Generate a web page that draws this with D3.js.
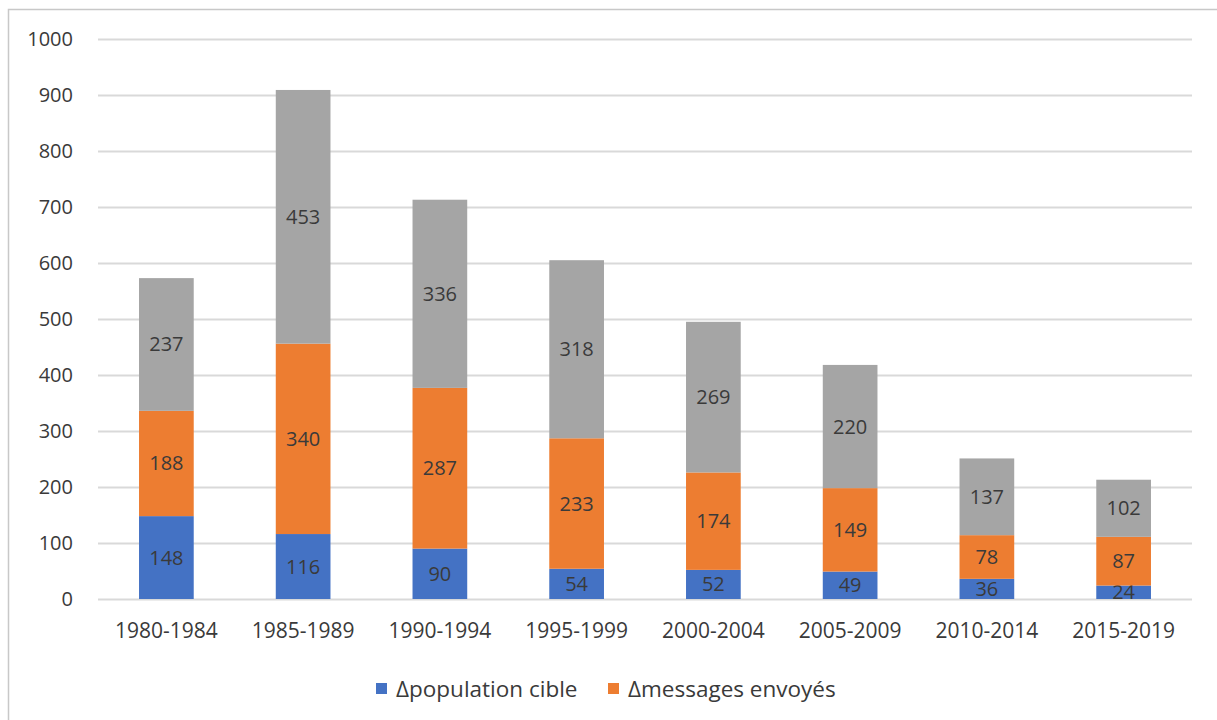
<!DOCTYPE html>
<html>
<head>
<meta charset="utf-8">
<script src="https://cdn.jsdelivr.net/npm/d3@7"></script>
<style>
  body { margin: 0; background: #fff; }
  svg text { font-family: "Open Sans", sans-serif; fill: #3a3a3a; }
</style>
</head>
<body>
<div id="chart"></div>
<script>
const categories = ["1980-1984", "1985-1989", "1990-1994", "1995-1999", "2000-2004", "2005-2009", "2010-2014", "2015-2019"];
const population = [148, 116, 90, 54, 52, 49, 36, 24];
const messages = [188, 340, 287, 233, 174, 149, 78, 87];
const autres = [237, 453, 336, 318, 269, 220, 137, 102];
const yTicks = [0, 100, 200, 300, 400, 500, 600, 700, 800, 900, 1000];

const seriesNames = ["Δpopulation cible", "Δmessages envoyés", "autres"];
const seriesColors = ["#4472c4", "#ed7d31", "#a5a5a5"];
const legendKeys = [0, 1]; // third series is not in the legend

const width = 1217, height = 720;
const margin = { top: 39, right: 25, bottom: 121, left: 98 };

const svg = d3.select("#chart").append("svg")
    .attr("width", width)
    .attr("height", height);

// outer frame
svg.append("rect")
    .attr("x", 8.5).attr("y", 9.5)
    .attr("width", width + 10).attr("height", height + 10)
    .attr("fill", "none")
    .attr("stroke", "#c8c8c8")
    .attr("stroke-width", 1.5);

const x = d3.scaleBand()
    .domain(categories)
    .range([margin.left, width - margin.right])
    .paddingInner(0.6)
    .paddingOuter(0.3);

const y = d3.scaleLinear()
    .domain([0, 1000])
    .range([height - margin.bottom, margin.top]);

// gridlines
svg.append("g")
    .selectAll("line")
    .data(yTicks)
    .enter().append("line")
    .attr("x1", margin.left)
    .attr("x2", width - margin.right)
    .attr("y1", d => Math.round(y(d)) + 0.5)
    .attr("y2", d => Math.round(y(d)) + 0.5)
    .attr("stroke", "#d9d9d9")
    .attr("stroke-width", 2);

// y tick labels
svg.append("g")
    .selectAll("text")
    .data(yTicks)
    .enter().append("text")
    .attr("x", 73)
    .attr("y", d => y(d))
    .attr("dy", "0.35em")
    .attr("text-anchor", "end")
    .attr("font-size", 20)
    .text(d => d);

// x labels
svg.append("g")
    .selectAll("text")
    .data(categories)
    .enter().append("text")
    .attr("x", d => x(d) + x.bandwidth() / 2)
    .attr("y", height - margin.bottom + 32)
    .attr("dy", "0.35em")
    .attr("text-anchor", "middle")
    .attr("font-size", 21)
    .text(d => d);

// stacked data
const rows = categories.map((c, i) => ({ cat: c, s0: population[i], s1: messages[i], s2: autres[i] }));
const stack = d3.stack().keys(["s0", "s1", "s2"]);
const layers = stack(rows);

const layerG = svg.append("g")
    .selectAll("g")
    .data(layers)
    .enter().append("g")
    .attr("fill", (d, i) => seriesColors[i]);

layerG.selectAll("rect")
    .data(d => d)
    .enter().append("rect")
    .attr("x", d => x(d.data.cat))
    .attr("width", x.bandwidth())
    .attr("y", d => y(d[1]))
    .attr("height", d => y(d[0]) - y(d[1]));

// data labels
layerG.selectAll("text")
    .data(d => d.map(v => ({ v, key: d.key })))
    .enter().append("text")
    .attr("x", d => x(d.v.data.cat) + x.bandwidth() / 2)
    .attr("y", d => (y(d.v[0]) + y(d.v[1])) / 2)
    .attr("dy", "0.35em")
    .attr("text-anchor", "middle")
    .attr("font-size", 20)
    .text(d => d.v.data[d.key]);

// legend
const legend = svg.append("g");
const legendX = [376, 608];
legendKeys.forEach((k, i) => {
    legend.append("rect")
        .attr("x", legendX[i])
        .attr("y", 683)
        .attr("width", 11)
        .attr("height", 11)
        .attr("fill", seriesColors[k]);
    legend.append("text")
        .attr("x", legendX[i] + 20)
        .attr("y", 689)
        .attr("dy", "0.35em")
        .attr("font-size", 22.5)
        .text(seriesNames[k]);
});
</script>
</body>
</html>
